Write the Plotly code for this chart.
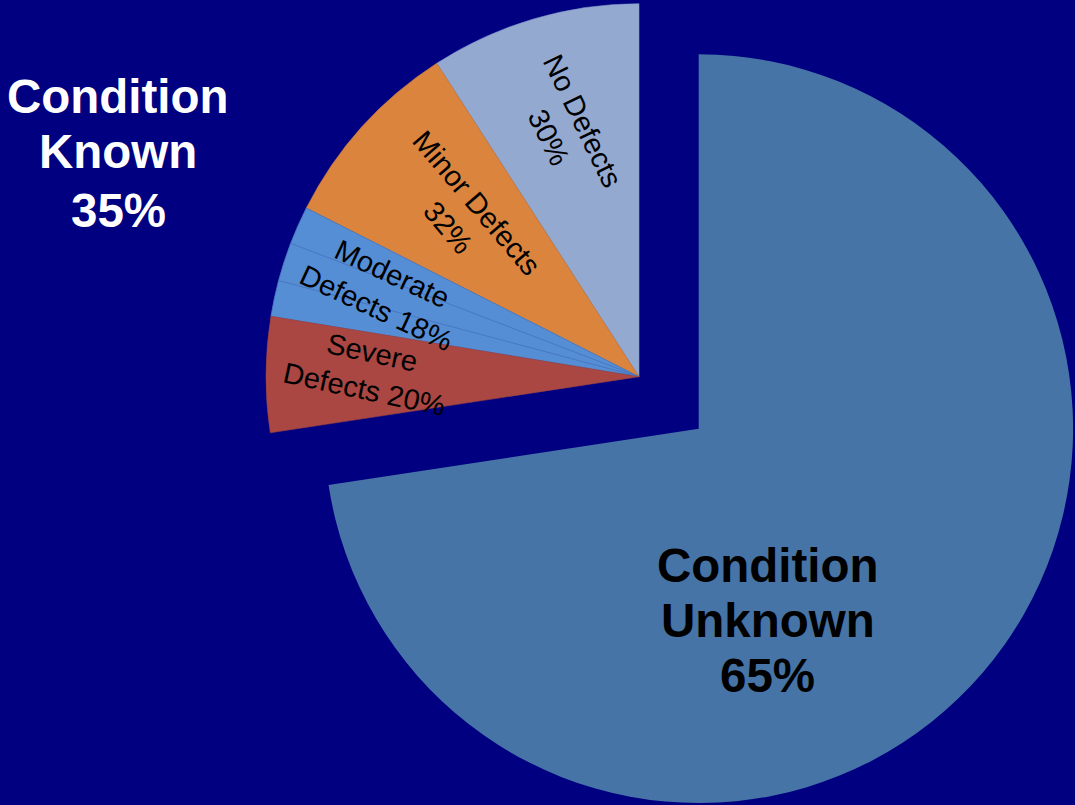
import plotly.graph_objects as go

# ---------------- data ----------------
# slice order (counterclockwise from 12 o'clock after the first slice)
slice_names = ["Condition Unknown", "No Defects", "Minor Defects",
               "Moderate Defects a", "Moderate Defects b", "Moderate Defects c",
               "Severe Defects"]
# drawn share of the whole pie (percent)
slice_values = [72.59, 9.12, 8.41, 1.65, 1.67, 1.56, 4.99]

group_names = ["Condition Known", "Condition Unknown"]
group_pct = [35, 65]

known_categories = ["No Defects", "Minor Defects", "Moderate Defects", "Severe Defects"]
known_pct = [30, 32, 18, 20]

# ---------------- style ----------------
W, H = 1075, 805
BG = "#000080"
TR = "rgba(0,0,0,0)"
C_UNKNOWN = "#4674A7"
C_NODEF = "#94A9D0"
C_MINOR = "#DB843D"
C_MOD = "#568ED6"
C_SEV = "#AA4743"


def dom(cx, cy, r):
    return dict(x=[(cx - r) / W, (cx + r) / W],
                y=[1 - (cy + r) / H, 1 - (cy - r) / H])


fig = go.Figure()

# main (condition unknown) pie
fig.add_trace(go.Pie(
    labels=slice_names, values=slice_values, sort=False,
    direction="counterclockwise", rotation=0,
    marker=dict(colors=[C_UNKNOWN] + [TR] * 6,
                line=dict(width=[0] * 7, color=[BG] * 7)),
    textinfo="none", hoverinfo="label", showlegend=False,
    domain=dom(698.7, 428.7, 374.4),
))

# exploded (condition known) group
fig.add_trace(go.Pie(
    labels=slice_names, values=slice_values, sort=False,
    direction="counterclockwise", rotation=0,
    marker=dict(colors=[TR, C_NODEF, C_MINOR, C_MOD, C_MOD, C_MOD, C_SEV],
                line=dict(width=[0, 0.6, 0.6, 0.8, 0.8, 0.8, 0.6],
                          color=[TR, "#7F98C8", "#C9803F", "#4A7BC2", "#4A7BC2",
                                 "#4A7BC2", "#9E4542"])),
    textinfo="none", hoverinfo="label", showlegend=False,
    domain=dom(639.0, 376.7, 373.0),
))

annotations = []

# slice labels (rotated)
label_wrap = ["No Defects<br>{p}%", "Minor Defects<br>{p}%",
              "Moderate<br>Defects {p}%", "Severe<br>Defects {p}%"]
label_pos = [(565.5, 129, 64), (462, 215, 49.5), (384, 291, 25), (368, 371, 12)]
for tmpl, p, (px, py, ang) in zip(label_wrap, known_pct, label_pos):
    annotations.append(dict(
        x=px / W, y=1 - py / H, xref="paper", yref="paper",
        text=tmpl.format(p=p), textangle=ang, showarrow=False,
        xanchor="center", yanchor="middle",
        font=dict(family="Arial, Liberation Sans", size=29, color="black"),
    ))

# group labels, one annotation per line
group_pos = {"Condition Known": (118, [97, 151.5, 210], "white"),
             "Condition Unknown": (767.5, [565, 620, 675], "black")}
for name, pct in zip(group_names, group_pct):
    gx, gys, col = group_pos[name]
    lines = name.split(" ") + [f"{pct}%"]
    for line, gy in zip(lines, gys):
        annotations.append(dict(
            x=gx / W, y=1 - gy / H, xref="paper", yref="paper",
            text=f"<b>{line}</b>", showarrow=False,
            xanchor="center", yanchor="middle",
            font=dict(family="Arial, Liberation Sans", size=47.5, color=col),
        ))

fig.update_layout(
    width=W, height=H,
    margin=dict(l=0, r=0, t=0, b=0),
    paper_bgcolor=BG, plot_bgcolor=BG,
    annotations=annotations,
)

fig.write_html(
    "out.html",
    config={"displayModeBar": False},
    post_script="document.body.style.margin='0';document.body.style.overflow='hidden';",
)
